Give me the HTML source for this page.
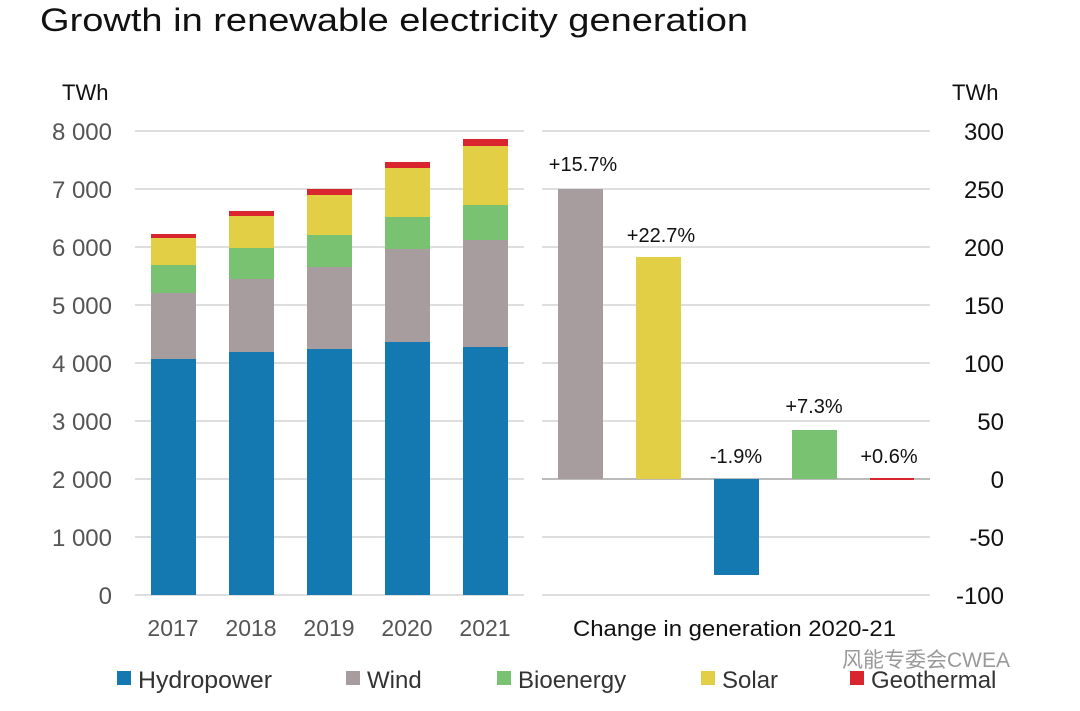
<!DOCTYPE html>
<html><head><style>
body{margin:0;background:#fff;width:1080px;height:706px;overflow:hidden}
svg text{font-family:"Liberation Sans","Noto Sans CJK SC",sans-serif}
</style></head><body>
<svg width="1080" height="706" xmlns="http://www.w3.org/2000/svg">
<text x="40" y="31" font-size="32" fill="#111" textLength="708" lengthAdjust="spacingAndGlyphs">Growth in renewable electricity generation</text>
<text x="62" y="100" font-size="22" fill="#111">TWh</text>
<text x="952" y="100" font-size="22" fill="#111">TWh</text>
<g stroke="#dedede" stroke-width="2">
<line x1="135" x2="524" y1="131" y2="131"/><line x1="135" x2="524" y1="189" y2="189"/>
<line x1="135" x2="524" y1="247" y2="247"/><line x1="135" x2="524" y1="305" y2="305"/>
<line x1="135" x2="524" y1="363" y2="363"/><line x1="135" x2="524" y1="421" y2="421"/>
<line x1="135" x2="524" y1="479" y2="479"/><line x1="135" x2="524" y1="537" y2="537"/>
<line x1="135" x2="524" y1="595" y2="595"/>
<line x1="542" x2="930" y1="131" y2="131"/><line x1="542" x2="930" y1="189" y2="189"/>
<line x1="542" x2="930" y1="247" y2="247"/><line x1="542" x2="930" y1="305" y2="305"/>
<line x1="542" x2="930" y1="363" y2="363"/><line x1="542" x2="930" y1="421" y2="421"/>
<line x1="542" x2="930" y1="537" y2="537"/><line x1="542" x2="930" y1="595" y2="595"/>
</g>
<line x1="542" x2="930" y1="479" y2="479" stroke="#bbb" stroke-width="2"/>
<g font-size="24" fill="#555" text-anchor="end">
<text x="112" y="140">8 000</text><text x="112" y="198">7 000</text><text x="112" y="256">6 000</text>
<text x="112" y="314">5 000</text><text x="112" y="372">4 000</text><text x="112" y="430">3 000</text>
<text x="112" y="488">2 000</text><text x="112" y="546">1 000</text><text x="112" y="604">0</text>
</g>
<g font-size="24" fill="#111" text-anchor="end">
<text x="1004" y="140">300</text><text x="1004" y="198">250</text><text x="1004" y="256">200</text>
<text x="1004" y="314">150</text><text x="1004" y="372">100</text><text x="1004" y="430">50</text>
<text x="1004" y="488">0</text><text x="1004" y="546">-50</text><text x="1004" y="604">-100</text>
</g>
<g>
<rect x="151" y="359" width="45" height="236" fill="#1379b0"/><rect x="151" y="293" width="45" height="66" fill="#a89d9e"/><rect x="151" y="265" width="45" height="28" fill="#79c272"/><rect x="151" y="238" width="45" height="27" fill="#e3cf45"/><rect x="151" y="234" width="45" height="4" fill="#d9262e"/>
<rect x="229" y="352" width="45" height="243" fill="#1379b0"/><rect x="229" y="279" width="45" height="73" fill="#a89d9e"/><rect x="229" y="248" width="45" height="31" fill="#79c272"/><rect x="229" y="216" width="45" height="32" fill="#e3cf45"/><rect x="229" y="211" width="45" height="5" fill="#d9262e"/>
<rect x="307" y="349" width="45" height="246" fill="#1379b0"/><rect x="307" y="267" width="45" height="82" fill="#a89d9e"/><rect x="307" y="235" width="45" height="32" fill="#79c272"/><rect x="307" y="195" width="45" height="40" fill="#e3cf45"/><rect x="307" y="189" width="45" height="6" fill="#d9262e"/>
<rect x="385" y="342" width="45" height="253" fill="#1379b0"/><rect x="385" y="249" width="45" height="93" fill="#a89d9e"/><rect x="385" y="217" width="45" height="32" fill="#79c272"/><rect x="385" y="168" width="45" height="49" fill="#e3cf45"/><rect x="385" y="162" width="45" height="6" fill="#d9262e"/>
<rect x="463" y="347" width="45" height="248" fill="#1379b0"/><rect x="463" y="240" width="45" height="107" fill="#a89d9e"/><rect x="463" y="205" width="45" height="35" fill="#79c272"/><rect x="463" y="146" width="45" height="59" fill="#e3cf45"/><rect x="463" y="139" width="45" height="7" fill="#d9262e"/>
</g>
<rect x="558" y="189" width="45" height="290" fill="#a89d9e"/>
<rect x="636" y="257" width="45" height="222" fill="#e3cf45"/>
<rect x="714" y="479" width="45" height="96" fill="#1379b0"/>
<rect x="792" y="430" width="45" height="49" fill="#79c272"/>
<rect x="870" y="478" width="44" height="2" fill="#d9262e"/>
<g font-size="20" fill="#111" text-anchor="middle">
<text x="583" y="171">+15.7%</text><text x="661" y="242">+22.7%</text>
<text x="736" y="463">-1.9%</text><text x="814" y="413">+7.3%</text><text x="889" y="463">+0.6%</text>
</g>
<g font-size="23" fill="#555" text-anchor="middle">
<text x="173" y="636">2017</text><text x="251" y="636">2018</text><text x="329" y="636">2019</text>
<text x="407" y="636">2020</text><text x="485" y="636">2021</text>
</g>
<text x="573" y="636" font-size="22" fill="#111" textLength="323" lengthAdjust="spacingAndGlyphs">Change in generation 2020-21</text>
<g font-size="24" fill="#333">
<rect x="117" y="671" width="14" height="14" fill="#1379b0"/><text x="138" y="688" textLength="134" lengthAdjust="spacingAndGlyphs">Hydropower</text>
<rect x="346" y="671" width="14" height="14" fill="#a89d9e"/><text x="367" y="688">Wind</text>
<rect x="497" y="671" width="14" height="14" fill="#79c272"/><text x="518" y="688">Bioenergy</text>
<rect x="701" y="671" width="14" height="14" fill="#e3cf45"/><text x="722" y="688">Solar</text>
<rect x="850" y="671" width="14" height="14" fill="#d9262e"/><text x="871" y="688">Geothermal</text>
</g>
<text x="842" y="667" font-size="21" fill="#999">风能专委会CWEA</text>
</svg>
</body></html>
